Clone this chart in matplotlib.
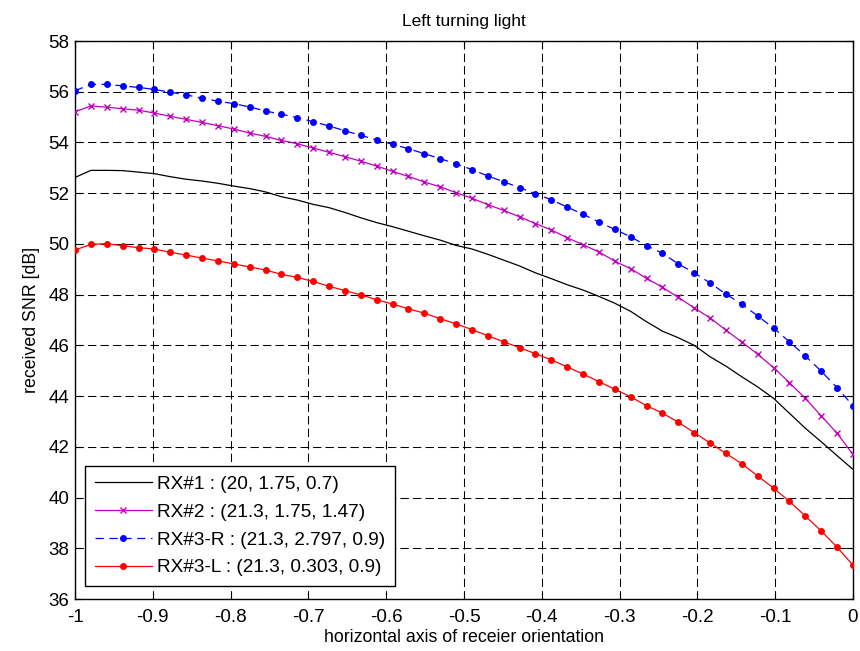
# Left turning light - received SNR vs receiver orientation
import matplotlib
matplotlib.use('Agg')
import matplotlib.pyplot as plt
import numpy as np

# x positions of the samples (50 points from -1 to 0)
x_orient = np.linspace(-1, 0, 50)

snr_rx1 = [52.62, 52.90, 52.90, 52.89, 52.83, 52.77, 52.65, 52.55, 52.48, 52.39,
           52.28, 52.18, 52.05, 51.86, 51.73, 51.56, 51.43, 51.24, 51.03, 50.84,
           50.68, 50.50, 50.32, 50.15, 49.94, 49.80, 49.59, 49.36, 49.13, 48.86,
           48.63, 48.39, 48.18, 47.93, 47.66, 47.34, 46.93, 46.56, 46.30, 46.00,
           45.55, 45.18, 44.76, 44.36, 43.91, 43.32, 42.73, 42.20, 41.65, 41.11]

snr_rx2 = [55.21, 55.44, 55.39, 55.33, 55.27, 55.16, 55.03, 54.91, 54.79, 54.66,
           54.53, 54.37, 54.24, 54.08, 53.95, 53.78, 53.61, 53.44, 53.26, 53.07,
           52.86, 52.66, 52.44, 52.25, 52.02, 51.80, 51.55, 51.32, 51.07, 50.80,
           50.55, 50.24, 49.97, 49.68, 49.32, 49.02, 48.64, 48.29, 47.89, 47.48,
           47.08, 46.60, 46.13, 45.65, 45.12, 44.53, 43.91, 43.22, 42.53, 41.70]

snr_rx3r = [56.04, 56.29, 56.29, 56.23, 56.17, 56.09, 55.98, 55.88, 55.74, 55.63,
            55.53, 55.40, 55.24, 55.11, 54.98, 54.82, 54.65, 54.46, 54.28, 54.10,
            53.93, 53.75, 53.56, 53.36, 53.16, 52.93, 52.68, 52.45, 52.22, 51.98,
            51.74, 51.45, 51.17, 50.86, 50.57, 50.28, 49.93, 49.63, 49.21, 48.86,
            48.46, 48.02, 47.62, 47.16, 46.68, 46.14, 45.58, 44.98, 44.33, 43.62]

snr_rx3l = [49.76, 49.98, 50.01, 49.93, 49.85, 49.80, 49.67, 49.56, 49.44, 49.33,
            49.21, 49.09, 48.97, 48.80, 48.68, 48.52, 48.33, 48.16, 47.99, 47.80,
            47.63, 47.44, 47.27, 47.05, 46.85, 46.62, 46.38, 46.14, 45.91, 45.67,
            45.43, 45.15, 44.87, 44.57, 44.27, 43.97, 43.62, 43.33, 42.97, 42.56,
            42.15, 41.74, 41.33, 40.85, 40.37, 39.85, 39.27, 38.68, 38.04, 37.33]

labels = ['RX#1 : (20, 1.75, 0.7)',
          'RX#2 : (21.3, 1.75, 1.47)',
          'RX#3-R : (21.3, 2.797, 0.9)',
          'RX#3-L : (21.3, 0.303, 0.9)']

x_ticks = [-1, -0.9, -0.8, -0.7, -0.6, -0.5, -0.4, -0.3, -0.2, -0.1, 0]
x_tick_labels = ['-1', '-0.9', '-0.8', '-0.7', '-0.6', '-0.5', '-0.4', '-0.3', '-0.2', '-0.1', '0']
y_ticks = list(range(36, 59, 2))

# Pre-plot settings
plt.rcParams['font.family'] = ['Liberation Sans', 'DejaVu Sans']
plt.rcParams['axes.unicode_minus'] = False
plt.rcParams['lines.scale_dashes'] = False
fs = 12.5
fs_tick = 13.5
fs_leg = 13.7

fig = plt.figure(figsize=(8.6, 6.51), dpi=100)
ax = fig.add_axes([75/860, 52/651, 778/860, 558/651])

ax.plot(x_orient, snr_rx1, color='k', linewidth=0.9, label=labels[0], zorder=3)
ax.plot(x_orient, snr_rx2, color='#c000c0', linewidth=0.9, marker='x',
        markersize=5, markeredgewidth=1.0, label=labels[1], zorder=3)
ax.plot(x_orient, snr_rx3r, color='#0000ff', linewidth=0.9, linestyle=(0, (6, 4)),
        marker='o', markersize=5, markeredgewidth=0, label=labels[2], zorder=3)
ax.plot(x_orient, snr_rx3l, color='#ff0000', linewidth=0.9, marker='o',
        markersize=5, markeredgewidth=0, label=labels[3], zorder=3)

ax.set_xlim(-1, 0)
ax.set_ylim(36, 58)
ax.set_xticks(x_ticks)
ax.set_xticklabels(x_tick_labels)
ax.set_yticks(y_ticks)
ax.tick_params(direction='in', top=True, right=True, length=5, width=0.8,
               labelsize=fs_tick)
ax.tick_params(axis='x', pad=7)
ax.tick_params(axis='y', pad=4)
for spine in ax.spines.values():
    spine.set_linewidth(1.0)

ax.grid(True, color='k', linestyle=(0, (6, 3)), linewidth=0.75)
ax.set_axisbelow(True)

ax.set_title('Left turning light', fontsize=fs, pad=11)
ax.set_xlabel('horizontal axis of receier orientation', fontsize=fs + 0.3, labelpad=2)
ax.set_ylabel('received SNR [dB]', fontsize=fs + 0.3, labelpad=6)

leg = ax.legend(loc='lower left', bbox_to_anchor=(0.0129, 0.0233), borderaxespad=0,
                fontsize=fs_leg, fancybox=False, edgecolor='k', framealpha=1,
                handlelength=3.0, handletextpad=0.3, labelspacing=0.55,
                borderpad=0.5)
leg.get_frame().set_linewidth(1.0)

plt.savefig('out.png', dpi=100)
